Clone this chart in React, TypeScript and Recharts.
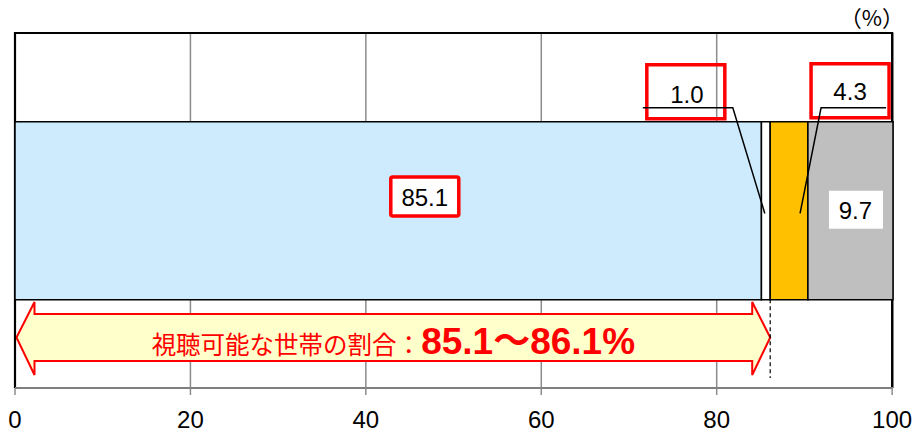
import { Bar, BarChart, CartesianGrid, LabelList, ReferenceArea, XAxis, YAxis } from "recharts";

// one stacked bar, values in %
const categories = ["全体"];
const viewable = [85.1];
const unknown = [1.0];
const partial = [4.3];
const notViewable = [9.7];
const xTicks = [0, 20, 40, 60, 80, 100];
const rangeLow = 85.1;
const rangeHigh = 86.1;
const rangeCaption = "視聴可能な世帯の割合：";
const unitLabel = "（%）";

const data = categories.map((name, i) => ({
  name,
  viewable: viewable[i],
  unknown: unknown[i],
  partial: partial[i],
  notViewable: notViewable[i],
}));

const NUM_FONT = "'Liberation Sans', Arial, sans-serif";
const JP_FONT = "'Noto Sans CJK JP', sans-serif";
const RED = "#ff0000";

const fmt = (v: any) => Number(v).toFixed(1);

// big label inside the blue part
const mainLabel = (p: any) => {
  const { x, y, width, height, value } = p;
  const cx = x + width * 0.549;
  const cy = y + height * 0.42;
  return (
    <g>
      <rect x={cx - 34} y={cy - 19.5} width={68} height={39} rx={2} fill="#fff" stroke={RED} strokeWidth={3.5} />
      <text x={cx} y={cy + 1} textAnchor="middle" dominantBaseline="central" fontFamily={NUM_FONT} fontSize={24} fill="#000">
        {fmt(value)}
      </text>
    </g>
  );
};

// "1.0" callout, leader goes up and to the left
const unknownLabel = (p: any) => {
  const { x, y, width, height, value } = p;
  const cx = x + width / 2;
  const top = y;
  return (
    <g>
      <rect x={cx - 119} y={top - 57} width={78} height={54} fill="none" stroke={RED} strokeWidth={3.5} />
      <polyline
        points={`${cx - 123},${top - 14} ${cx - 33},${top - 14} ${cx - 1},${top + height * 0.515}`}
        fill="none"
        stroke="#000"
        strokeWidth={1.5}
      />
      <text x={cx - 79} y={top - 27} textAnchor="middle" dominantBaseline="central" fontFamily={NUM_FONT} fontSize={24} fill="#000">
        {fmt(value)}
      </text>
    </g>
  );
};

// "4.3" callout, leader goes up and to the right
const partialLabel = (p: any) => {
  const { x, y, width, height, value } = p;
  const cx = x + width / 2;
  const top = y;
  return (
    <g>
      <rect x={cx + 22} y={top - 58} width={78} height={54} fill="none" stroke={RED} strokeWidth={3.5} />
      <polyline
        points={`${cx + 97},${top - 14} ${cx + 32},${top - 14} ${cx + 11},${top + height * 0.515}`}
        fill="none"
        stroke="#000"
        strokeWidth={1.5}
      />
      <text x={cx + 61} y={top - 30} textAnchor="middle" dominantBaseline="central" fontFamily={NUM_FONT} fontSize={24} fill="#000">
        {fmt(value)}
      </text>
    </g>
  );
};

const grayLabel = (p: any) => {
  const { x, y, width, height, value } = p;
  const cx = x + width / 2;
  const cy = y + height / 2;
  return (
    <g>
      <rect x={cx - 21.5} y={cy - 20} width={54} height={38} fill="#fff" />
      <text x={cx + 5} y={cy} textAnchor="middle" dominantBaseline="central" fontFamily={NUM_FONT} fontSize={24} fill="#000">
        {fmt(value)}
      </text>
    </g>
  );
};

// double arrow + caption under the bar
const rangeArrow = (p: any) => {
  const { x, y, width, height } = p;
  const bottom = y + height;
  const L = x + 1.5;
  const R = x + width;
  const hl = 18;
  const cy = bottom - 50.5;
  const ht = bottom - 86;
  const st = bottom - 74;
  const sb = bottom - 27;
  const hb = bottom - 13;
  const d =
    `M${L},${cy} L${L + hl},${ht} L${L + hl},${st} L${R - hl},${st} L${R - hl},${ht} L${R},${cy} ` +
    `L${R - hl},${hb} L${R - hl},${sb} L${L + hl},${sb} L${L + hl},${hb} Z`;
  return (
    <g>
      <path d={d} fill="#ffffcc" stroke={RED} strokeWidth={2} strokeLinejoin="miter" />
      <line x1={R} y1={y + height * 0.75} x2={R} y2={bottom - 10} stroke="#000" strokeWidth={1.2} strokeDasharray="4 3" />
      <text x={(L + R) / 2} y={bottom - 34} textAnchor="middle" fill={RED}>
        <tspan fontFamily={JP_FONT} fontSize={24.5}>{rangeCaption}</tspan>
        <tspan fontFamily={`${NUM_FONT}, ${JP_FONT}`} fontSize={37} fontWeight="bold">
          {`${rangeLow}～${rangeHigh}%`}
        </tspan>
      </text>
    </g>
  );
};

// plot frame (left, top, right) + unit label
const frame = (p: any) => {
  const { x, y, width, height } = p;
  return (
    <g>
      <path
        d={`M${x},${y + height} L${x},${y} L${x + width},${y} L${x + width},${y + height}`}
        fill="none"
        stroke="#000"
        strokeWidth={2.2}
      />
      <text x={x + width + 12} y={y - 7} textAnchor="end" fontFamily={JP_FONT} fontSize={22} fill="#000">
        {unitLabel}
      </text>
    </g>
  );
};

export default function App() {
  return (
    <div style={{ position: "absolute", left: 0, top: 0 }}>
      <BarChart
        width={917}
        height={433}
        data={data}
        layout="vertical"
        barCategoryGap="25%"
        margin={{ top: 33, right: 24, left: 15, bottom: 0 }}
      >
        <CartesianGrid horizontal={false} stroke="#8c8c8c" strokeWidth={1.5} />
        <XAxis
          type="number"
          domain={[0, 100]}
          ticks={xTicks}
          height={45}
          tickSize={7}
          tickMargin={16}
          axisLine={{ stroke: "#7f7f7f", strokeWidth: 2 }}
          tickLine={{ stroke: "#8c8c8c", strokeWidth: 1.5 }}
          tick={{ fontFamily: NUM_FONT, fontSize: 24, fill: "#000" }}
          interval={0}
        />
        <YAxis type="category" dataKey="name" hide width={0} />
        <ReferenceArea x1={0} x2={rangeHigh} shape={rangeArrow} ifOverflow="visible" />
        <Bar dataKey="viewable" stackId="a" fill="#cdebfc" stroke="#000" strokeWidth={1.5} isAnimationActive={false}>
          <LabelList dataKey="viewable" content={mainLabel} />
        </Bar>
        <Bar dataKey="unknown" stackId="a" fill="#ffffff" stroke="#000" strokeWidth={1.5} isAnimationActive={false}>
          <LabelList dataKey="unknown" content={unknownLabel} />
        </Bar>
        <Bar dataKey="partial" stackId="a" fill="#ffc000" stroke="#000" strokeWidth={1.5} isAnimationActive={false}>
          <LabelList dataKey="partial" content={partialLabel} />
        </Bar>
        <Bar dataKey="notViewable" stackId="a" fill="#bfbfbf" stroke="#000" strokeWidth={1.5} isAnimationActive={false}>
          <LabelList dataKey="notViewable" content={grayLabel} />
        </Bar>
        <ReferenceArea x1={0} x2={100} shape={frame} ifOverflow="visible" />
      </BarChart>
    </div>
  );
}
